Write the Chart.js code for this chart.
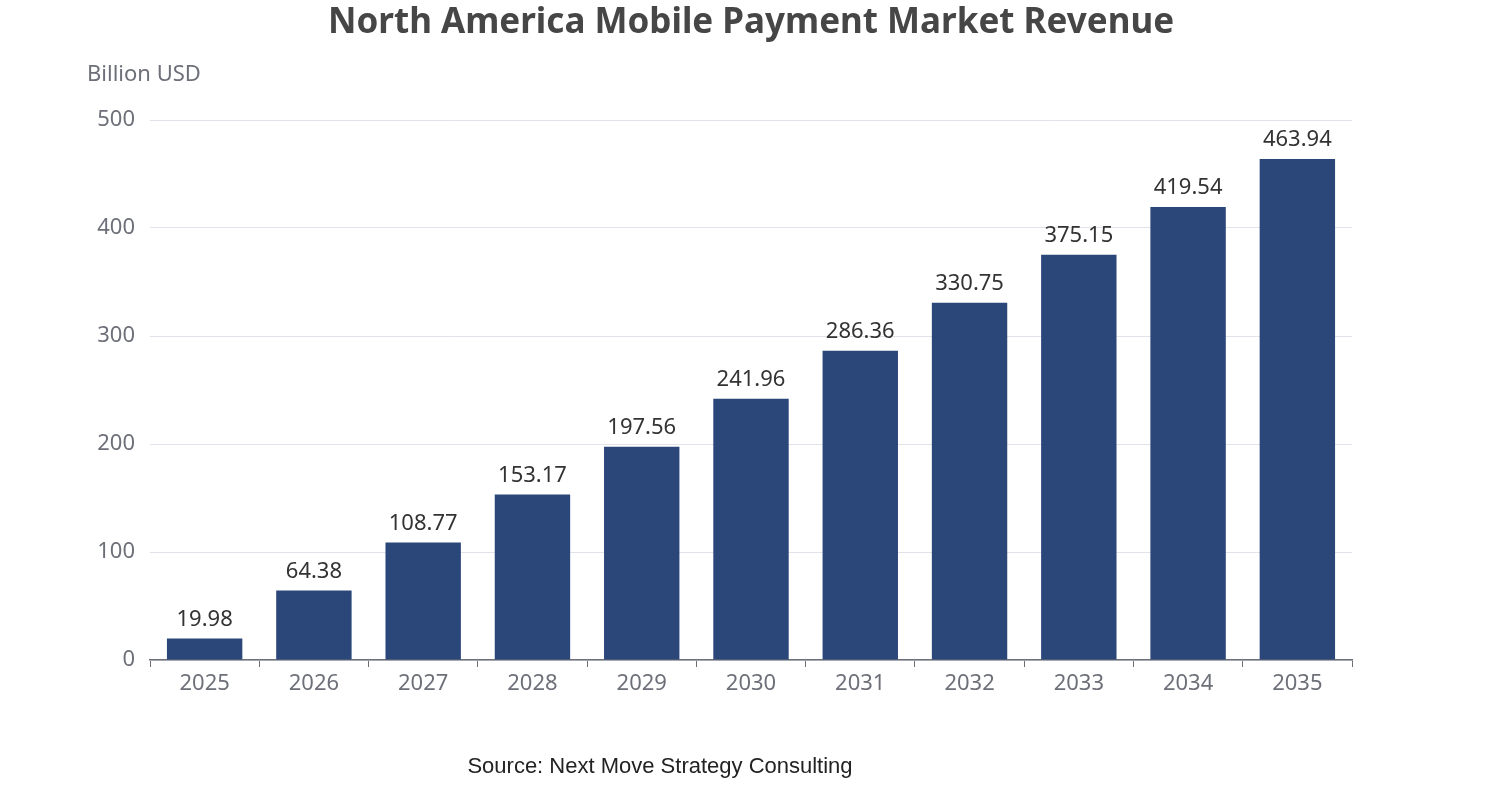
<!DOCTYPE html>
<html>
<head>
<meta charset="utf-8">
<script src="https://cdn.jsdelivr.net/npm/chart.js@4"></script>
<style>
  html, body { margin: 0; padding: 0; background: #fff; }
  #wrap { width: 1502px; height: 800px; }
</style>
</head>
<body>
<div id="wrap"><canvas id="revenueChart" width="1502" height="800"></canvas></div>
<script>
// data
var years = ['2025', '2026', '2027', '2028', '2029', '2030', '2031', '2032', '2033', '2034', '2035'];
var revenue = [19.98, 64.38, 108.77, 153.17, 197.56, 241.96, 286.36, 330.75, 375.15, 419.54, 463.94];
var yTicks = [0, 100, 200, 300, 400, 500];

var FONT = '"Noto Sans", "Open Sans", sans-serif';

// titles, unit label, source and value labels
var decor = {
    id: 'decor',
    afterDatasetsDraw: function(chart) {
        var c = chart.ctx;
        c.save();
        c.textAlign = 'center';
        c.textBaseline = 'middle';
        c.fillStyle = '#464646';
        c.font = 'bold 35px ' + FONT;
        c.fillText('North America Mobile Payment Market Revenue', 751, 23);
        c.textAlign = 'left';
        c.fillStyle = '#6e7079';
        c.font = '22px ' + FONT;
        c.fillText('Billion USD', 87, 75);
        c.textAlign = 'center';
        c.fillStyle = '#222';
        c.font = '22px "Liberation Sans", Arial, sans-serif';
        c.fillText('Source: Next Move Strategy Consulting', 660, 767);

        c.fillStyle = '#333';
        c.font = '22px ' + FONT;
        c.textBaseline = 'bottom';
        chart.getDatasetMeta(0).data.forEach(function(bar, i) {
            c.fillText(revenue[i].toFixed(2), bar.x, bar.y - 8);
        });
        c.restore();
    }
};

new Chart(document.getElementById('revenueChart').getContext('2d'), {
    type: 'bar',
    data: {
        labels: years,
        datasets: [{
            data: revenue,
            backgroundColor: '#2b4679',
            categoryPercentage: 1,
            barPercentage: 0.69
        }]
    },
    options: {
        responsive: false,
        animation: false,
        layout: { padding: { top: 120, right: 150, bottom: 100, left: 0 } },
        plugins: { legend: { display: false }, tooltip: { enabled: false } },
        scales: {
            x: {
                afterFit: function(s) { s.height = 40; },
                grid: { drawOnChartArea: false, offset: true, tickLength: 7, color: '#6e7079' },
                border: { color: '#6e7079', width: 1.5 },
                ticks: { color: '#6e7079', font: { size: 22, family: FONT }, padding: 4 }
            },
            y: {
                min: 0, max: 500,
                afterFit: function(s) { s.width = 150; },
                afterBuildTicks: function(s) { s.ticks = yTicks.map(function(v) { return { value: v }; }); },
                grid: { color: '#e0e3ea', drawTicks: false },
                border: { display: false },
                ticks: { color: '#6e7079', font: { size: 22, family: FONT }, padding: 15 }
            }
        }
    },
    plugins: [decor]
});
</script>
</body>
</html>
